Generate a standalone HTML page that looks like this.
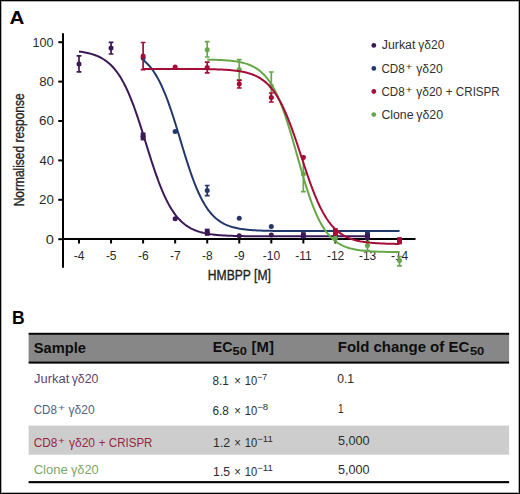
<!DOCTYPE html>
<html><head><meta charset="utf-8"><style>
html,body{margin:0;padding:0;background:#fff;}
body{width:520px;height:494px;overflow:hidden;position:relative;}
svg{position:absolute;left:0;top:0;}
text{font-family:"Liberation Sans",sans-serif;}
.tk{font-size:12px;fill:#2a2a2a;}
.ax{font-size:14px;fill:#222;stroke:#222;stroke-width:0.35px;}
.lg{fill:#303030;}
.pl{fill:#000;}
.th{fill:#0d0d0d;}
.td{fill:#2c2c2c;}
</style></head><body>
<svg width="520" height="494" viewBox="0 0 520 494">
<rect x="0.5" y="0.5" width="519" height="493" fill="#fff" stroke="#000" stroke-width="1"/>
<rect x="1.5" y="1.5" width="517" height="491" fill="none" stroke="#b0b0b0" stroke-width="1"/>
<line x1="63" y1="33.3" x2="63" y2="267.7" stroke="#000" stroke-width="2"/>
<line x1="62" y1="239" x2="415.5" y2="239" stroke="#000" stroke-width="2"/>
<line x1="58.3" y1="239.20" x2="63" y2="239.20" stroke="#000" stroke-width="2"/>
<text x="45.71" y="243.5" class="tk" textLength="8.15" lengthAdjust="spacingAndGlyphs"><tspan dy="0" style="font-size:12px;">0</tspan></text>
<line x1="58.3" y1="199.80" x2="63" y2="199.80" stroke="#000" stroke-width="2"/>
<text x="39.13" y="204.1" class="tk" textLength="14.79" lengthAdjust="spacingAndGlyphs"><tspan dy="0" style="font-size:12px;">20</tspan></text>
<line x1="58.3" y1="160.40" x2="63" y2="160.40" stroke="#000" stroke-width="2"/>
<text x="39.51" y="164.7" class="tk" textLength="14.41" lengthAdjust="spacingAndGlyphs"><tspan dy="0" style="font-size:12px;">40</tspan></text>
<line x1="58.3" y1="121.00" x2="63" y2="121.00" stroke="#000" stroke-width="2"/>
<text x="39.13" y="125.3" class="tk" textLength="14.79" lengthAdjust="spacingAndGlyphs"><tspan dy="0" style="font-size:12px;">60</tspan></text>
<line x1="58.3" y1="81.60" x2="63" y2="81.60" stroke="#000" stroke-width="2"/>
<text x="39.24" y="85.9" class="tk" textLength="14.69" lengthAdjust="spacingAndGlyphs"><tspan dy="0" style="font-size:12px;">80</tspan></text>
<line x1="58.3" y1="42.20" x2="63" y2="42.20" stroke="#000" stroke-width="2"/>
<text x="32.56" y="46.5" class="tk" textLength="20.92" lengthAdjust="spacingAndGlyphs"><tspan dy="0" style="font-size:12px;">100</tspan></text>
<line x1="79.00" y1="239" x2="79.00" y2="243.5" stroke="#000" stroke-width="2"/>
<text x="73.77" y="259.5" class="tk">-4</text>
<line x1="111.05" y1="239" x2="111.05" y2="243.5" stroke="#000" stroke-width="2"/>
<text x="105.89" y="259.5" class="tk">-5</text>
<line x1="143.10" y1="239" x2="143.10" y2="243.5" stroke="#000" stroke-width="2"/>
<text x="137.96" y="259.5" class="tk">-6</text>
<line x1="175.15" y1="239" x2="175.15" y2="243.5" stroke="#000" stroke-width="2"/>
<text x="170.05" y="259.5" class="tk">-7</text>
<line x1="207.20" y1="239" x2="207.20" y2="243.5" stroke="#000" stroke-width="2"/>
<text x="202.06" y="259.5" class="tk">-8</text>
<line x1="239.25" y1="239" x2="239.25" y2="243.5" stroke="#000" stroke-width="2"/>
<text x="234.12" y="259.5" class="tk">-9</text>
<line x1="271.30" y1="239" x2="271.30" y2="243.5" stroke="#000" stroke-width="2"/>
<text x="262.78" y="259.5" class="tk">-10</text>
<line x1="303.35" y1="239" x2="303.35" y2="243.5" stroke="#000" stroke-width="2"/>
<text x="295.34" y="259.5" class="tk">-11</text>
<line x1="335.40" y1="239" x2="335.40" y2="243.5" stroke="#000" stroke-width="2"/>
<text x="326.96" y="259.5" class="tk">-12</text>
<line x1="367.45" y1="239" x2="367.45" y2="243.5" stroke="#000" stroke-width="2"/>
<text x="358.96" y="259.5" class="tk">-13</text>
<line x1="399.50" y1="239" x2="399.50" y2="243.5" stroke="#000" stroke-width="2"/>
<text x="390.93" y="259.5" class="tk">-14</text>
<text x="207.80" y="280.3" class="ax" textLength="63.04" lengthAdjust="spacingAndGlyphs"><tspan dy="0" style="font-size:14px;">HMBPP [M]</tspan></text>
<text transform="translate(24,205.3) rotate(-90)" x="-0.98" y="0" class="ax" textLength="112.81" lengthAdjust="spacingAndGlyphs">Normalised response</text>
<path d="M143.10,60.03 L144.17,60.89 L145.25,61.82 L146.32,62.80 L147.39,63.86 L148.46,64.98 L149.54,66.18 L150.61,67.46 L151.68,68.82 L152.76,70.27 L153.83,71.80 L154.90,73.42 L155.97,75.14 L157.05,76.96 L158.12,78.88 L159.19,80.90 L160.26,83.02 L161.34,85.25 L162.41,87.59 L163.48,90.03 L164.56,92.58 L165.63,95.24 L166.70,98.00 L167.77,100.85 L168.85,103.81 L169.92,106.86 L170.99,109.99 L172.07,113.21 L173.14,116.50 L174.21,119.86 L175.28,123.27 L176.36,126.74 L177.43,130.24 L178.50,133.77 L179.58,137.32 L180.65,140.88 L181.72,144.43 L182.79,147.97 L183.87,151.49 L184.94,154.97 L186.01,158.41 L187.08,161.79 L188.16,165.11 L189.23,168.36 L190.30,171.53 L191.38,174.62 L192.45,177.61 L193.52,180.51 L194.59,183.32 L195.67,186.02 L196.74,188.61 L197.81,191.10 L198.89,193.48 L199.96,195.76 L201.03,197.93 L202.10,199.99 L203.18,201.96 L204.25,203.82 L205.32,205.58 L206.40,207.24 L207.47,208.81 L208.54,210.29 L209.61,211.69 L210.69,213.00 L211.76,214.23 L212.83,215.39 L213.91,216.48 L214.98,217.49 L216.05,218.44 L217.12,219.33 L218.20,220.16 L219.27,220.94 L220.34,221.66 L221.41,222.33 L222.49,222.96 L223.56,223.55 L224.63,224.09 L225.71,224.60 L226.78,225.07 L227.85,225.51 L228.92,225.92 L230.00,226.30 L231.07,226.65 L232.14,226.98 L233.22,227.28 L234.29,227.56 L235.36,227.82 L236.43,228.06 L237.51,228.29 L238.58,228.50 L239.65,228.69 L240.73,228.87 L241.80,229.03 L242.87,229.19 L243.94,229.33 L245.02,229.46 L246.09,229.58 L247.16,229.70 L248.23,229.80 L249.31,229.90 L250.38,229.99 L251.45,230.07 L252.53,230.15 L253.60,230.22 L254.67,230.29 L255.74,230.35 L256.82,230.40 L257.89,230.46 L258.96,230.50 L260.04,230.55 L261.11,230.59 L262.18,230.63 L263.25,230.66 L264.33,230.70 L265.40,230.73 L266.47,230.76 L267.55,230.78 L268.62,230.81 L269.69,230.83 L270.76,230.85 L271.84,230.87 L272.91,230.89 L273.98,230.90 L275.05,230.92 L276.13,230.93 L277.20,230.94 L278.27,230.96 L279.35,230.97 L280.42,230.98 L281.49,230.99 L282.56,231.00 L283.64,231.00 L284.71,231.01 L285.78,231.02 L286.86,231.02 L287.93,231.03 L289.00,231.04 L290.07,231.04 L291.15,231.05 L292.22,231.05 L293.29,231.05 L294.37,231.06 L295.44,231.06 L296.51,231.06 L297.58,231.07 L298.66,231.07 L299.73,231.07 L300.80,231.07 L301.87,231.08 L302.95,231.08 L304.02,231.08 L305.09,231.08 L306.17,231.08 L307.24,231.09 L308.31,231.09 L309.38,231.09 L310.46,231.09 L311.53,231.09 L312.60,231.09 L313.68,231.09 L314.75,231.09 L315.82,231.09 L316.89,231.09 L317.97,231.10 L319.04,231.10 L320.11,231.10 L321.19,231.10 L322.26,231.10 L323.33,231.10 L324.40,231.10 L325.48,231.10 L326.55,231.10 L327.62,231.10 L328.69,231.10 L329.77,231.10 L330.84,231.10 L331.91,231.10 L332.99,231.10 L334.06,231.10 L335.13,231.10 L336.20,231.10 L337.28,231.10 L338.35,231.10 L339.42,231.10 L340.50,231.10 L341.57,231.10 L342.64,231.10 L343.71,231.10 L344.79,231.10 L345.86,231.10 L346.93,231.10 L348.01,231.10 L349.08,231.10 L350.15,231.10 L351.22,231.10 L352.30,231.10 L353.37,231.10 L354.44,231.10 L355.52,231.10 L356.59,231.10 L357.66,231.10 L358.73,231.10 L359.81,231.10 L360.88,231.10 L361.95,231.10 L363.02,231.10 L364.10,231.10 L365.17,231.10 L366.24,231.10 L367.32,231.10 L368.39,231.10 L369.46,231.10 L370.53,231.10 L371.61,231.10 L372.68,231.10 L373.75,231.10 L374.83,231.10 L375.90,231.10 L376.97,231.10 L378.04,231.10 L379.12,231.10 L380.19,231.10 L381.26,231.10 L382.34,231.10 L383.41,231.10 L384.48,231.10 L385.55,231.10 L386.63,231.10 L387.70,231.10 L388.77,231.10 L389.84,231.10 L390.92,231.10 L391.99,231.10 L393.06,231.10 L394.14,231.10 L395.21,231.10 L396.28,231.10 L397.35,231.10 L398.43,231.10 L399.50,231.10" fill="none" stroke="#22386c" stroke-width="2"/>
<circle cx="143.10" cy="58" r="2.5" fill="#22386c"/>
<circle cx="175.15" cy="131.5" r="2.5" fill="#22386c"/>
<path d="M207.20,185.5V195.7M204.80,185.5H209.60M204.80,195.7H209.60" stroke="#22386c" stroke-width="1.7" fill="none"/>
<circle cx="207.20" cy="190.6" r="2.5" fill="#22386c"/>
<circle cx="239.25" cy="218.2" r="2.5" fill="#22386c"/>
<circle cx="271.30" cy="226.6" r="2.5" fill="#22386c"/>
<rect x="365.05" y="231.15" width="4.80" height="6.70" fill="#22386c"/>
<circle cx="367.45" cy="234.5" r="2.5" fill="#22386c"/>
<path d="M79.00,51.52 L80.21,51.68 L81.41,51.85 L82.62,52.04 L83.83,52.24 L85.03,52.46 L86.24,52.69 L87.45,52.95 L88.66,53.23 L89.86,53.53 L91.07,53.86 L92.28,54.21 L93.48,54.59 L94.69,55.01 L95.90,55.45 L97.10,55.94 L98.31,56.46 L99.52,57.02 L100.72,57.63 L101.93,58.29 L103.14,59.00 L104.34,59.77 L105.55,60.59 L106.76,61.48 L107.97,62.43 L109.17,63.46 L110.38,64.56 L111.59,65.74 L112.79,67.00 L114.00,68.35 L115.21,69.80 L116.41,71.34 L117.62,72.99 L118.83,74.74 L120.03,76.60 L121.24,78.57 L122.45,80.67 L123.66,82.88 L124.86,85.21 L126.07,87.67 L127.28,90.25 L128.48,92.95 L129.69,95.78 L130.90,98.73 L132.10,101.80 L133.31,104.98 L134.52,108.27 L135.72,111.67 L136.93,115.16 L138.14,118.75 L139.35,122.40 L140.55,126.13 L141.76,129.91 L142.97,133.74 L144.17,137.60 L145.38,141.48 L146.59,145.36 L147.79,149.24 L149.00,153.09 L150.21,156.91 L151.41,160.69 L152.62,164.40 L153.83,168.04 L155.03,171.61 L156.24,175.08 L157.45,178.46 L158.66,181.73 L159.86,184.89 L161.07,187.93 L162.28,190.85 L163.48,193.66 L164.69,196.34 L165.90,198.89 L167.10,201.32 L168.31,203.63 L169.52,205.81 L170.72,207.88 L171.93,209.83 L173.14,211.67 L174.35,213.40 L175.55,215.02 L176.76,216.54 L177.97,217.97 L179.17,219.30 L180.38,220.55 L181.59,221.71 L182.79,222.79 L184.00,223.80 L185.21,224.74 L186.41,225.62 L187.62,226.43 L188.83,227.18 L190.04,227.88 L191.24,228.53 L192.45,229.13 L193.66,229.68 L194.86,230.20 L196.07,230.67 L197.28,231.11 L198.48,231.52 L199.69,231.90 L200.90,232.24 L202.10,232.56 L203.31,232.86 L204.52,233.13 L205.72,233.39 L206.93,233.62 L208.14,233.83 L209.35,234.03 L210.55,234.21 L211.76,234.38 L212.97,234.54 L214.17,234.68 L215.38,234.81 L216.59,234.93 L217.79,235.05 L219.00,235.15 L220.21,235.24 L221.41,235.33 L222.62,235.41 L223.83,235.49 L225.04,235.55 L226.24,235.62 L227.45,235.67 L228.66,235.73 L229.86,235.78 L231.07,235.82 L232.28,235.86 L233.48,235.90 L234.69,235.94 L235.90,235.97 L237.10,236.00 L238.31,236.03 L239.52,236.05 L240.73,236.08 L241.93,236.10 L243.14,236.12 L244.35,236.13 L245.55,236.15 L246.76,236.17 L247.97,236.18 L249.17,236.19 L250.38,236.21 L251.59,236.22 L252.79,236.23 L254.00,236.24 L255.21,236.24 L256.41,236.25 L257.62,236.26 L258.83,236.27 L260.04,236.27 L261.24,236.28 L262.45,236.28 L263.66,236.29 L264.86,236.29 L266.07,236.30 L267.28,236.30 L268.48,236.30 L269.69,236.31 L270.90,236.31 L272.10,236.31 L273.31,236.32 L274.52,236.32 L275.73,236.32 L276.93,236.32 L278.14,236.32 L279.35,236.32 L280.55,236.33 L281.76,236.33 L282.97,236.33 L284.17,236.33 L285.38,236.33 L286.59,236.33 L287.79,236.33 L289.00,236.33 L290.21,236.33 L291.42,236.34 L292.62,236.34 L293.83,236.34 L295.04,236.34 L296.24,236.34 L297.45,236.34 L298.66,236.34 L299.86,236.34 L301.07,236.34 L302.28,236.34 L303.48,236.34 L304.69,236.34 L305.90,236.34 L307.10,236.34 L308.31,236.34 L309.52,236.34 L310.73,236.34 L311.93,236.34 L313.14,236.34 L314.35,236.34 L315.55,236.34 L316.76,236.34 L317.97,236.34 L319.17,236.34 L320.38,236.34 L321.59,236.34 L322.79,236.34 L324.00,236.34 L325.21,236.34 L326.42,236.34 L327.62,236.34 L328.83,236.34 L330.04,236.34 L331.24,236.34 L332.45,236.34 L333.66,236.34 L334.86,236.34 L336.07,236.34 L337.28,236.34 L338.48,236.34 L339.69,236.34 L340.90,236.34 L342.11,236.34 L343.31,236.34 L344.52,236.34 L345.73,236.34 L346.93,236.34 L348.14,236.34 L349.35,236.34 L350.55,236.34 L351.76,236.34 L352.97,236.34 L354.17,236.34 L355.38,236.34 L356.59,236.34 L357.79,236.34 L359.00,236.34 L360.21,236.34 L361.42,236.34 L362.62,236.34 L363.83,236.34 L365.04,236.34 L366.24,236.34 L367.45,236.34" fill="none" stroke="#3d1856" stroke-width="2"/>
<path d="M79.00,55.8V71.9M76.60,55.8H81.40M76.60,71.9H81.40" stroke="#3d1856" stroke-width="1.7" fill="none"/>
<circle cx="79.00" cy="63.9" r="2.5" fill="#3d1856"/>
<path d="M111.05,42.4V54M108.65,42.4H113.45M108.65,54H113.45" stroke="#3d1856" stroke-width="1.7" fill="none"/>
<circle cx="111.05" cy="48" r="2.5" fill="#3d1856"/>
<rect x="140.70" y="132.45" width="4.80" height="8.00" fill="#3d1856"/>
<circle cx="143.10" cy="136.5" r="2.5" fill="#3d1856"/>
<circle cx="175.15" cy="218.8" r="2.5" fill="#3d1856"/>
<rect x="204.80" y="228.65" width="4.80" height="7.20" fill="#3d1856"/>
<circle cx="207.20" cy="232.5" r="2.5" fill="#3d1856"/>
<circle cx="239.25" cy="235.8" r="2.5" fill="#3d1856"/>
<circle cx="271.30" cy="235" r="2.5" fill="#3d1856"/>
<rect x="300.95" y="232.15" width="4.80" height="6.50" fill="#3d1856"/>
<circle cx="303.35" cy="235.3" r="2.5" fill="#3d1856"/>
<rect x="333.00" y="233.15" width="4.80" height="5.70" fill="#3d1856"/>
<circle cx="335.40" cy="236" r="2.5" fill="#3d1856"/>
<rect x="365.05" y="233.65" width="4.80" height="6.20" fill="#3d1856"/>
<circle cx="367.45" cy="236.8" r="2.5" fill="#3d1856"/>
<path d="M207.20,59.59 L208.00,59.61 L208.81,59.63 L209.61,59.64 L210.42,59.66 L211.22,59.68 L212.03,59.70 L212.83,59.72 L213.64,59.75 L214.44,59.77 L215.25,59.80 L216.05,59.83 L216.86,59.86 L217.66,59.89 L218.46,59.92 L219.27,59.96 L220.07,59.99 L220.88,60.03 L221.68,60.08 L222.49,60.12 L223.29,60.17 L224.10,60.22 L224.90,60.27 L225.71,60.33 L226.51,60.39 L227.32,60.45 L228.12,60.52 L228.92,60.59 L229.73,60.67 L230.53,60.75 L231.34,60.83 L232.14,60.92 L232.95,61.02 L233.75,61.12 L234.56,61.23 L235.36,61.34 L236.17,61.46 L236.97,61.59 L237.77,61.73 L238.58,61.87 L239.38,62.03 L240.19,62.19 L240.99,62.36 L241.80,62.54 L242.60,62.73 L243.41,62.93 L244.21,63.15 L245.02,63.38 L245.82,63.62 L246.63,63.87 L247.43,64.14 L248.23,64.43 L249.04,64.73 L249.84,65.05 L250.65,65.39 L251.45,65.74 L252.26,66.12 L253.06,66.52 L253.87,66.94 L254.67,67.39 L255.48,67.86 L256.28,68.35 L257.09,68.87 L257.89,69.43 L258.69,70.01 L259.50,70.62 L260.30,71.27 L261.11,71.95 L261.91,72.66 L262.72,73.42 L263.52,74.21 L264.33,75.04 L265.13,75.92 L265.94,76.84 L266.74,77.81 L267.55,78.82 L268.35,79.88 L269.15,80.99 L269.96,82.16 L270.76,83.38 L271.57,84.65 L272.37,85.99 L273.18,87.38 L273.98,88.83 L274.79,90.34 L275.59,91.91 L276.40,93.54 L277.20,95.24 L278.01,97.01 L278.81,98.84 L279.61,100.73 L280.42,102.69 L281.22,104.71 L282.03,106.80 L282.83,108.95 L283.64,111.16 L284.44,113.44 L285.25,115.78 L286.05,118.17 L286.86,120.62 L287.66,123.12 L288.46,125.68 L289.27,128.28 L290.07,130.93 L290.88,133.61 L291.68,136.34 L292.49,139.09 L293.29,141.88 L294.10,144.68 L294.90,147.51 L295.71,150.35 L296.51,153.20 L297.32,156.06 L298.12,158.91 L298.92,161.76 L299.73,164.60 L300.53,167.43 L301.34,170.23 L302.14,173.01 L302.95,175.76 L303.75,178.47 L304.56,181.15 L305.36,183.79 L306.17,186.38 L306.97,188.92 L307.78,191.42 L308.58,193.85 L309.38,196.24 L310.19,198.56 L310.99,200.82 L311.80,203.02 L312.60,205.16 L313.41,207.23 L314.21,209.24 L315.02,211.19 L315.82,213.07 L316.63,214.88 L317.43,216.63 L318.24,218.32 L319.04,219.94 L319.84,221.50 L320.65,222.99 L321.45,224.43 L322.26,225.81 L323.06,227.13 L323.87,228.39 L324.67,229.60 L325.48,230.75 L326.28,231.85 L327.09,232.91 L327.89,233.91 L328.69,234.86 L329.50,235.78 L330.30,236.64 L331.11,237.47 L331.91,238.25 L332.72,239.00 L333.52,239.71 L334.33,240.38 L335.13,241.02 L335.94,241.62 L336.74,242.20 L337.55,242.74 L338.35,243.26 L339.15,243.75 L339.96,244.21 L340.76,244.65 L341.57,245.07 L342.37,245.46 L343.18,245.84 L343.98,246.19 L344.79,246.52 L345.59,246.84 L346.40,247.14 L347.20,247.42 L348.01,247.69 L348.81,247.94 L349.61,248.18 L350.42,248.40 L351.22,248.61 L352.03,248.81 L352.83,249.00 L353.64,249.18 L354.44,249.35 L355.25,249.51 L356.05,249.66 L356.86,249.80 L357.66,249.94 L358.47,250.06 L359.27,250.18 L360.07,250.30 L360.88,250.40 L361.68,250.50 L362.49,250.60 L363.29,250.69 L364.10,250.77 L364.90,250.85 L365.71,250.93 L366.51,251.00 L367.32,251.06 L368.12,251.13 L368.93,251.19 L369.73,251.24 L370.53,251.29 L371.34,251.34 L372.14,251.39 L372.95,251.43 L373.75,251.48 L374.56,251.52 L375.36,251.55 L376.17,251.59 L376.97,251.62 L377.78,251.65 L378.58,251.68 L379.38,251.71 L380.19,251.74 L380.99,251.76 L381.80,251.78 L382.60,251.80 L383.41,251.83 L384.21,251.84 L385.02,251.86 L385.82,251.88 L386.63,251.90 L387.43,251.91 L388.24,251.93 L389.04,251.94 L389.84,251.95 L390.65,251.96 L391.45,251.98 L392.26,251.99 L393.06,252.00 L393.87,252.01 L394.67,252.02 L395.48,252.02 L396.28,252.03 L397.09,252.04 L397.89,252.05 L398.70,252.05 L399.50,252.06" fill="none" stroke="#66a847" stroke-width="2"/>
<path d="M207.20,41.6V57M204.80,41.6H209.60M204.80,57H209.60" stroke="#66a847" stroke-width="1.7" fill="none"/>
<circle cx="207.20" cy="49.7" r="2.5" fill="#66a847"/>
<path d="M239.25,59.6V79.9M236.85,59.6H241.65M236.85,79.9H241.65" stroke="#66a847" stroke-width="1.7" fill="none"/>
<circle cx="239.25" cy="69.5" r="2.5" fill="#66a847"/>
<path d="M271.30,72V97M268.90,72H273.70M268.90,97H273.70" stroke="#66a847" stroke-width="1.7" fill="none"/>
<circle cx="271.30" cy="86" r="2.5" fill="#66a847"/>
<path d="M303.35,156.5V191.6M300.95,156.5H305.75M300.95,191.6H305.75" stroke="#66a847" stroke-width="1.7" fill="none"/>
<circle cx="303.35" cy="174" r="2.5" fill="#66a847"/>
<circle cx="335.40" cy="238" r="2.5" fill="#66a847"/>
<path d="M367.45,241.5V250.5M365.05,241.5H369.85M365.05,250.5H369.85" stroke="#66a847" stroke-width="1.7" fill="none"/>
<circle cx="367.45" cy="245.5" r="2.5" fill="#66a847"/>
<path d="M399.50,256.5V265.8M397.10,256.5H401.90M397.10,265.8H401.90" stroke="#66a847" stroke-width="1.7" fill="none"/>
<circle cx="399.50" cy="260.4" r="2.5" fill="#66a847"/>
<path d="M143.10,68.90 L144.17,68.90 L145.25,68.90 L146.32,68.90 L147.39,68.90 L148.46,68.90 L149.54,68.90 L150.61,68.90 L151.68,68.90 L152.76,68.90 L153.83,68.90 L154.90,68.90 L155.97,68.90 L157.05,68.90 L158.12,68.90 L159.19,68.90 L160.26,68.90 L161.34,68.90 L162.41,68.90 L163.48,68.91 L164.56,68.91 L165.63,68.91 L166.70,68.91 L167.77,68.91 L168.85,68.91 L169.92,68.91 L170.99,68.91 L172.07,68.91 L173.14,68.92 L174.21,68.92 L175.28,68.92 L176.36,68.92 L177.43,68.92 L178.50,68.93 L179.58,68.93 L180.65,68.93 L181.72,68.94 L182.79,68.94 L183.87,68.94 L184.94,68.95 L186.01,68.95 L187.08,68.95 L188.16,68.96 L189.23,68.96 L190.30,68.97 L191.38,68.98 L192.45,68.98 L193.52,68.99 L194.59,69.00 L195.67,69.00 L196.74,69.01 L197.81,69.02 L198.89,69.03 L199.96,69.04 L201.03,69.05 L202.10,69.07 L203.18,69.08 L204.25,69.09 L205.32,69.11 L206.40,69.13 L207.47,69.14 L208.54,69.16 L209.61,69.19 L210.69,69.21 L211.76,69.23 L212.83,69.26 L213.91,69.29 L214.98,69.32 L216.05,69.35 L217.12,69.39 L218.20,69.42 L219.27,69.46 L220.34,69.51 L221.41,69.56 L222.49,69.61 L223.56,69.66 L224.63,69.72 L225.71,69.79 L226.78,69.86 L227.85,69.93 L228.92,70.01 L230.00,70.10 L231.07,70.19 L232.14,70.29 L233.22,70.40 L234.29,70.51 L235.36,70.64 L236.43,70.77 L237.51,70.92 L238.58,71.07 L239.65,71.24 L240.73,71.42 L241.80,71.61 L242.87,71.82 L243.94,72.04 L245.02,72.28 L246.09,72.54 L247.16,72.82 L248.23,73.11 L249.31,73.43 L250.38,73.78 L251.45,74.14 L252.53,74.54 L253.60,74.96 L254.67,75.42 L255.74,75.90 L256.82,76.43 L257.89,76.98 L258.96,77.58 L260.04,78.22 L261.11,78.90 L262.18,79.63 L263.25,80.41 L264.33,81.25 L265.40,82.13 L266.47,83.08 L267.55,84.09 L268.62,85.16 L269.69,86.29 L270.76,87.50 L271.84,88.79 L272.91,90.14 L273.98,91.58 L275.05,93.10 L276.13,94.70 L277.20,96.40 L278.27,98.18 L279.35,100.05 L280.42,102.01 L281.49,104.07 L282.56,106.22 L283.64,108.46 L284.71,110.80 L285.78,113.24 L286.86,115.76 L287.93,118.37 L289.00,121.07 L290.07,123.86 L291.15,126.72 L292.22,129.65 L293.29,132.66 L294.37,135.72 L295.44,138.84 L296.51,142.01 L297.58,145.22 L298.66,148.46 L299.73,151.72 L300.80,154.99 L301.87,158.27 L302.95,161.54 L304.02,164.80 L305.09,168.04 L306.17,171.24 L307.24,174.41 L308.31,177.52 L309.38,180.58 L310.46,183.58 L311.53,186.51 L312.60,189.37 L313.68,192.15 L314.75,194.84 L315.82,197.45 L316.89,199.97 L317.97,202.39 L319.04,204.72 L320.11,206.96 L321.19,209.11 L322.26,211.16 L323.33,213.11 L324.40,214.98 L325.48,216.75 L326.55,218.44 L327.62,220.03 L328.69,221.55 L329.77,222.98 L330.84,224.33 L331.91,225.61 L332.99,226.81 L334.06,227.94 L335.13,229.01 L336.20,230.01 L337.28,230.95 L338.35,231.84 L339.42,232.66 L340.50,233.44 L341.57,234.17 L342.64,234.85 L343.71,235.48 L344.79,236.08 L345.86,236.63 L346.93,237.15 L348.01,237.64 L349.08,238.09 L350.15,238.51 L351.22,238.90 L352.30,239.27 L353.37,239.61 L354.44,239.93 L355.52,240.22 L356.59,240.50 L357.66,240.76 L358.73,240.99 L359.81,241.22 L360.88,241.42 L361.95,241.61 L363.02,241.79 L364.10,241.96 L365.17,242.11 L366.24,242.26 L367.32,242.39 L368.39,242.51 L369.46,242.63 L370.53,242.74 L371.61,242.84 L372.68,242.93 L373.75,243.01 L374.83,243.09 L375.90,243.17 L376.97,243.24 L378.04,243.30 L379.12,243.36 L380.19,243.41 L381.26,243.47 L382.34,243.51 L383.41,243.56 L384.48,243.60 L385.55,243.64 L386.63,243.67 L387.70,243.70 L388.77,243.73 L389.84,243.76 L390.92,243.79 L391.99,243.81 L393.06,243.83 L394.14,243.86 L395.21,243.88 L396.28,243.89 L397.35,243.91 L398.43,243.93 L399.50,243.94" fill="none" stroke="#a50c36" stroke-width="2"/>
<path d="M143.10,42.5V69.6M140.70,42.5H145.50M140.70,69.6H145.50" stroke="#a50c36" stroke-width="1.7" fill="none"/>
<circle cx="143.10" cy="56.1" r="2.5" fill="#a50c36"/>
<circle cx="175.15" cy="67.1" r="2.5" fill="#a50c36"/>
<path d="M207.20,62.1V72.8M204.80,62.1H209.60M204.80,72.8H209.60" stroke="#a50c36" stroke-width="1.7" fill="none"/>
<circle cx="207.20" cy="67.6" r="2.5" fill="#a50c36"/>
<path d="M239.25,80.4V88M236.85,80.4H241.65M236.85,88H241.65" stroke="#a50c36" stroke-width="1.7" fill="none"/>
<circle cx="239.25" cy="83.9" r="2.5" fill="#a50c36"/>
<path d="M271.30,93V102M268.90,93H273.70M268.90,102H273.70" stroke="#a50c36" stroke-width="1.7" fill="none"/>
<circle cx="271.30" cy="97.5" r="2.5" fill="#a50c36"/>
<circle cx="303.35" cy="157.6" r="2.5" fill="#a50c36"/>
<rect x="333.00" y="228.15" width="4.80" height="7.70" fill="#a50c36"/>
<circle cx="335.40" cy="232" r="2.5" fill="#a50c36"/>
<rect x="397.10" y="237.15" width="4.80" height="7.20" fill="#a50c36"/>
<circle cx="399.50" cy="240.8" r="2.5" fill="#a50c36"/>
<circle cx="373.8" cy="45.4" r="2.4" fill="#3d1856"/>
<text x="381.81" y="48.7" class="lg" textLength="33.59" lengthAdjust="spacingAndGlyphs"><tspan dy="0" style="font-size:12.5px;">Jurkat</tspan></text>
<text x="418.37" y="48.7" class="lg" textLength="26.00" lengthAdjust="spacingAndGlyphs"><tspan dy="0" style="font-size:12.5px;">γδ20</tspan></text>
<circle cx="373.8" cy="68.4" r="2.4" fill="#22386c"/>
<text x="381.42" y="72.7" class="lg" textLength="23.28" lengthAdjust="spacingAndGlyphs"><tspan dy="0" style="font-size:12.5px;">CD8</tspan></text>
<text x="405.67" y="69.8" class="lg" textLength="6.47" lengthAdjust="spacingAndGlyphs"><tspan dy="0" style="font-size:9px;">+</tspan></text>
<text x="416.27" y="72.7" class="lg" textLength="26.41" lengthAdjust="spacingAndGlyphs"><tspan dy="0" style="font-size:12.5px;">γδ20</tspan></text>
<circle cx="373.8" cy="91.5" r="2.4" fill="#a50c36"/>
<text x="381.42" y="95.6" class="lg" textLength="23.28" lengthAdjust="spacingAndGlyphs"><tspan dy="0" style="font-size:12.5px;">CD8</tspan></text>
<text x="405.67" y="92.7" class="lg" textLength="6.47" lengthAdjust="spacingAndGlyphs"><tspan dy="0" style="font-size:9px;">+</tspan></text>
<text x="416.27" y="95.6" class="lg" textLength="26.00" lengthAdjust="spacingAndGlyphs"><tspan dy="0" style="font-size:12.5px;">γδ20</tspan></text>
<text x="445.85" y="95.6" class="lg" textLength="53.91" lengthAdjust="spacingAndGlyphs"><tspan dy="0" style="font-size:12.5px;">+ CRISPR</tspan></text>
<circle cx="373.8" cy="114.6" r="2.4" fill="#66a847"/>
<text x="381.38" y="118.5" class="lg" textLength="32.14" lengthAdjust="spacingAndGlyphs"><tspan dy="0" style="font-size:12.5px;">Clone</tspan></text>
<text x="416.27" y="118.5" class="lg" textLength="26.81" lengthAdjust="spacingAndGlyphs"><tspan dy="0" style="font-size:12.5px;">γδ20</tspan></text>
<text x="9.49" y="23.85" class="pl" textLength="14.87" lengthAdjust="spacingAndGlyphs"><tspan dy="0" style="font-size:18.5px;font-weight:bold;">A</tspan></text>
<text x="11.92" y="323.8" class="pl" textLength="12.67" lengthAdjust="spacingAndGlyphs"><tspan dy="0" style="font-size:18px;font-weight:bold;">B</tspan></text>
<rect x="28.6" y="332.8" width="480.5" height="2.1" fill="#000"/>
<rect x="28.6" y="334.9" width="480.5" height="26.5" fill="#878787"/>
<rect x="28.6" y="361.4" width="480.5" height="2.2" fill="#000"/>
<rect x="28.6" y="425.6" width="480.5" height="29.1" fill="#cdcdcd"/>
<rect x="28.6" y="481.1" width="480.5" height="2.1" fill="#000"/>
<text x="33.76" y="353.4" class="th" textLength="52.15" lengthAdjust="spacingAndGlyphs"><tspan dy="0" style="font-size:14.8px;font-weight:bold;">Sample</tspan></text>
<text x="212.84" y="351.6" class="th" textLength="19.74" lengthAdjust="spacingAndGlyphs"><tspan dy="0" style="font-size:14.8px;font-weight:bold;">EC</tspan></text>
<text x="232.51" y="354.7" class="th" textLength="14.33" lengthAdjust="spacingAndGlyphs"><tspan dy="0" style="font-size:10.5px;font-weight:bold;">50</tspan></text>
<text x="251.58" y="351.6" class="th" textLength="22.26" lengthAdjust="spacingAndGlyphs"><tspan dy="0" style="font-size:14.8px;font-weight:bold;">[M]</tspan></text>
<text x="337.79" y="351.8" class="th" textLength="131.43" lengthAdjust="spacingAndGlyphs"><tspan dy="0" style="font-size:14.8px;font-weight:bold;">Fold change of EC</tspan></text>
<text x="469.91" y="354.7" class="th" textLength="14.39" lengthAdjust="spacingAndGlyphs"><tspan dy="0" style="font-size:10.5px;font-weight:bold;">50</tspan></text>
<text x="34.11" y="382.7" class="td" style="fill:#5e4470" textLength="35.30" lengthAdjust="spacingAndGlyphs"><tspan dy="0" style="font-size:12.5px;">Jurkat</tspan></text>
<text x="71.67" y="382.7" class="td" style="fill:#5e4470" textLength="26.81" lengthAdjust="spacingAndGlyphs"><tspan dy="0" style="font-size:12.5px;">γδ20</tspan></text>
<text x="33.72" y="414.1" class="td" style="fill:#4c6280" textLength="23.28" lengthAdjust="spacingAndGlyphs"><tspan dy="0" style="font-size:12.5px;">CD8</tspan></text>
<text x="57.93" y="411.2" class="td" style="fill:#4c6280" textLength="6.95" lengthAdjust="spacingAndGlyphs"><tspan dy="0" style="font-size:9px;">+</tspan></text>
<text x="68.57" y="414.1" class="td" style="fill:#4c6280" textLength="26.10" lengthAdjust="spacingAndGlyphs"><tspan dy="0" style="font-size:12.5px;">γδ20</tspan></text>
<text x="33.71" y="446.5" class="td" style="fill:#9a2444" textLength="23.70" lengthAdjust="spacingAndGlyphs"><tspan dy="0" style="font-size:12.5px;">CD8</tspan></text>
<text x="58.37" y="443.6" class="td" style="fill:#9a2444" textLength="6.47" lengthAdjust="spacingAndGlyphs"><tspan dy="0" style="font-size:9px;">+</tspan></text>
<text x="68.97" y="446.5" class="td" style="fill:#9a2444" textLength="26.10" lengthAdjust="spacingAndGlyphs"><tspan dy="0" style="font-size:12.5px;">γδ20</tspan></text>
<text x="98.85" y="446.5" class="td" style="fill:#9a2444" textLength="53.60" lengthAdjust="spacingAndGlyphs"><tspan dy="0" style="font-size:12.5px;">+ CRISPR</tspan></text>
<text x="33.65" y="473.5" class="td" style="fill:#7aa866" textLength="34.22" lengthAdjust="spacingAndGlyphs"><tspan dy="0" style="font-size:12.5px;">Clone</tspan></text>
<text x="70.97" y="473.5" class="td" style="fill:#7aa866" textLength="27.73" lengthAdjust="spacingAndGlyphs"><tspan dy="0" style="font-size:12.5px;">γδ20</tspan></text>
<text x="212.60" y="385.2" class="td" textLength="16.25" lengthAdjust="spacingAndGlyphs"><tspan dy="0" style="font-size:12.5px;">8.1</tspan></text>
<text x="234.20" y="385.2" class="td" textLength="6.69" lengthAdjust="spacingAndGlyphs"><tspan dy="0" style="font-size:12.5px;">×</tspan></text>
<text x="244.77" y="385.2" class="td" textLength="12.38" lengthAdjust="spacingAndGlyphs"><tspan dy="0" style="font-size:12.5px;">10</tspan></text>
<text x="257.26" y="380.3" class="td" textLength="9.98" lengthAdjust="spacingAndGlyphs"><tspan dy="0" style="font-size:9px;">−7</tspan></text>
<text x="212.51" y="414.6" class="td" textLength="16.29" lengthAdjust="spacingAndGlyphs"><tspan dy="0" style="font-size:12.5px;">6.8</tspan></text>
<text x="234.20" y="414.6" class="td" textLength="6.69" lengthAdjust="spacingAndGlyphs"><tspan dy="0" style="font-size:12.5px;">×</tspan></text>
<text x="244.77" y="414.6" class="td" textLength="12.38" lengthAdjust="spacingAndGlyphs"><tspan dy="0" style="font-size:12.5px;">10</tspan></text>
<text x="257.22" y="409.7" class="td" textLength="10.99" lengthAdjust="spacingAndGlyphs"><tspan dy="0" style="font-size:9px;">−8</tspan></text>
<text x="213.08" y="446.7" class="td" textLength="17.14" lengthAdjust="spacingAndGlyphs"><tspan dy="0" style="font-size:12.5px;">1.2</tspan></text>
<text x="234.20" y="446.7" class="td" textLength="6.69" lengthAdjust="spacingAndGlyphs"><tspan dy="0" style="font-size:12.5px;">×</tspan></text>
<text x="244.77" y="446.7" class="td" textLength="12.38" lengthAdjust="spacingAndGlyphs"><tspan dy="0" style="font-size:12.5px;">10</tspan></text>
<text x="257.22" y="441.8" class="td" textLength="15.66" lengthAdjust="spacingAndGlyphs"><tspan dy="0" style="font-size:9px;">−11</tspan></text>
<text x="213.08" y="475.6" class="td" textLength="17.01" lengthAdjust="spacingAndGlyphs"><tspan dy="0" style="font-size:12.5px;">1.5</tspan></text>
<text x="234.20" y="475.6" class="td" textLength="6.69" lengthAdjust="spacingAndGlyphs"><tspan dy="0" style="font-size:12.5px;">×</tspan></text>
<text x="244.77" y="475.6" class="td" textLength="12.38" lengthAdjust="spacingAndGlyphs"><tspan dy="0" style="font-size:12.5px;">10</tspan></text>
<text x="257.22" y="470.7" class="td" textLength="15.66" lengthAdjust="spacingAndGlyphs"><tspan dy="0" style="font-size:9px;">−11</tspan></text>
<text x="337.21" y="382.8" class="td" textLength="16.86" lengthAdjust="spacingAndGlyphs"><tspan dy="0" style="font-size:12.5px;">0.1</tspan></text>
<text x="338.05" y="412.5" class="td" textLength="5.53" lengthAdjust="spacingAndGlyphs"><tspan dy="0" style="font-size:12.5px;">1</tspan></text>
<text x="337.99" y="444.6" class="td" textLength="31.68" lengthAdjust="spacingAndGlyphs"><tspan dy="0" style="font-size:12.5px;">5,000</tspan></text>
<text x="337.99" y="473.8" class="td" textLength="31.68" lengthAdjust="spacingAndGlyphs"><tspan dy="0" style="font-size:12.5px;">5,000</tspan></text>
</svg>
</body></html>
